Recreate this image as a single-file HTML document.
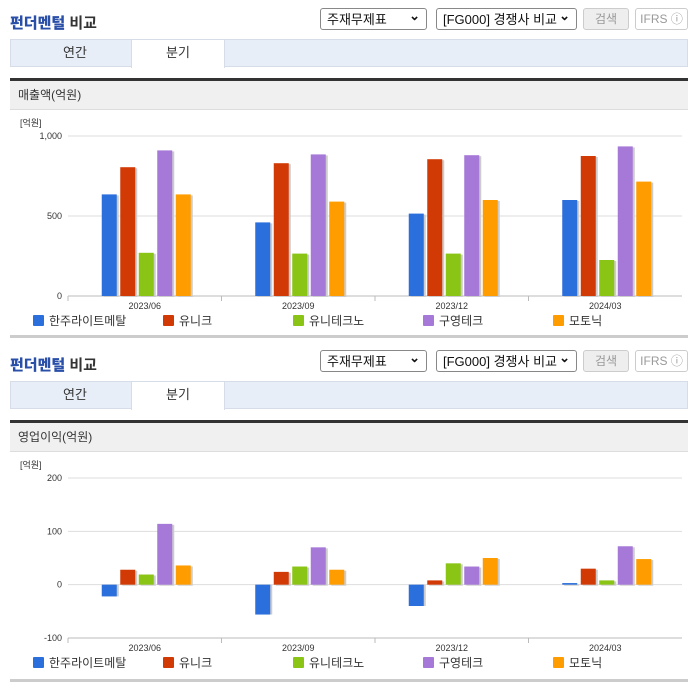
<!DOCTYPE html>
<html><head><meta charset="utf-8"><style>
body{margin:0;width:696px;height:684px;background:#fff;font-family:"Liberation Sans","Noto Sans CJK KR",sans-serif;position:relative;overflow:hidden}
.sec{position:absolute;left:0;width:696px;height:342px}
.title{position:absolute;left:10px;top:12px;font-size:15px;font-weight:bold;color:#333}
.title b{color:#2a4fa8}
.sel{position:absolute;top:8px;height:22px;border:1px solid #888;border-radius:3px;background:#fff;font-size:13px;line-height:22px;padding-left:6px;box-sizing:border-box;color:#111}
.sel:after{content:"⌄";position:absolute;right:6px;top:-4px;font-weight:bold}
.btn{position:absolute;top:8px;height:22px;border:1px solid #ccc;border-radius:3px;background:#eee;font-size:12px;line-height:20px;text-align:center;color:#999;box-sizing:border-box}
.tabs{position:absolute;left:10px;top:39px;width:678px;height:28px;background:#e8eef7;border:1px solid #d6dde8;box-sizing:border-box}
.tab{position:absolute;top:0;height:28px;width:92px;text-align:center;font-size:13px;line-height:26px;color:#333}
.thick{position:absolute;left:10px;top:78px;width:678px;height:3px;background:#333}
.ghead{position:absolute;left:10px;top:81px;width:678px;height:29px;background:#f0f0f0;font-size:12px;line-height:29px;padding-left:8px;box-sizing:border-box;color:#333;border-bottom:1px solid #ddd}
.bottom{position:absolute;left:10px;top:335px;width:678px;height:3px;background:#ccc}
svg{position:absolute;left:0;top:0}
</style></head><body>
<div class="sec" style="top:0">
<div class="title"><b>펀더멘털</b> 비교</div>
<div class="sel" style="left:320px;width:107px">주재무제표</div>
<div class="sel" style="left:436px;width:141px">[FG000] 경쟁사 비교</div>
<div class="btn" style="left:583px;width:46px">검색</div>
<div class="btn" style="left:635px;width:53px;background:#fff">IFRS ⓘ</div>
<div class="tabs">
<div class="tab" style="left:18px">연간</div>
<div class="tab" style="left:120px;background:#fff;border-left:1px solid #d6dde8;border-right:1px solid #d6dde8;height:28px">분기</div>
</div>
<div class="thick"></div>
<div class="ghead">매출액(억원)</div>
<svg id="c1" width="696" height="342"></svg>
<div class="bottom"></div>
</div>
<div class="sec" style="top:342px">
<div class="title"><b>펀더멘털</b> 비교</div>
<div class="sel" style="left:320px;width:107px">주재무제표</div>
<div class="sel" style="left:436px;width:141px">[FG000] 경쟁사 비교</div>
<div class="btn" style="left:583px;width:46px">검색</div>
<div class="btn" style="left:635px;width:53px;background:#fff">IFRS ⓘ</div>
<div class="tabs">
<div class="tab" style="left:18px">연간</div>
<div class="tab" style="left:120px;background:#fff;border-left:1px solid #d6dde8;border-right:1px solid #d6dde8;height:28px">분기</div>
</div>
<div class="thick"></div>
<div class="ghead">영업이익(억원)</div>
<svg id="c2" width="696" height="342"></svg>
<div class="bottom" style="top:337px"></div>
</div>
<script>
const categories=["2023/06","2023/09","2023/12","2024/03"];
const seriesNames=["한주라이트메탈","유니크","유니테크노","구영테크","모토닉"];
const colors=["#2a6fdb","#d23a05","#8ac414","#a678d8","#ff9c00"];
const revHanju=[635,460,515,600];
const revUnique=[805,830,855,875];
const revUnitechno=[270,265,265,225];
const revGuyoung=[910,885,880,935];
const revMotonic=[635,590,600,715];
const opHanju=[-22,-56,-40,3];
const opUnique=[28,24,8,30];
const opUnitechno=[19,34,40,8];
const opGuyoung=[114,70,34,72];
const opMotonic=[36,28,50,48];
const revTicks=[0,500,1000];
const opTicks=[-100,0,100,200];
const NS="http://www.w3.org/2000/svg";
function mk(svg,tag,attrs,txt){const e=document.createElementNS(NS,tag);for(const k in attrs)e.setAttribute(k,attrs[k]);if(txt!==undefined)e.textContent=txt;svg.appendChild(e);return e;}
function draw(id,series,ticks,min,max,yTop,yBot,axisY){
 const svg=document.getElementById(id);
 const L=68,R=682,cw=(R-L)/categories.length;
 const y=v=>yBot-(v-min)/(max-min)*(yBot-yTop);
 const xb=(c,s)=>L+cw*c+cw/2-43+s*18.5;
 let t=mk(svg,'text',{x:20,y:yTop-10,'font-size':9,fill:'#333'},'[억원]');
 
 ticks.forEach(v=>{
  let l=mk(svg,'line',{x1:L,x2:R,y1:y(v),y2:y(v),stroke:v===min?'#bbb':'#ddd','stroke-width':1});
  
  let tx=mk(svg,'text',{x:L-6,y:y(v)+3,'font-size':9,fill:'#333','text-anchor':'end'},v.toLocaleString('en-US'));
  
 });
 categories.forEach((c,i)=>{
  let l=mk(svg,'line',{x1:L+cw*i,x2:L+cw*i,y1:yBot,y2:yBot+5,stroke:'#bbb'});
  
  let tx=mk(svg,'text',{x:L+cw*i+cw/2,y:yBot+13,'font-size':9,fill:'#333','text-anchor':'middle'},c);
  
  series.forEach((s,j)=>{
   const v=s[i],y0=y(axisY),y1=y(v),top=Math.min(y0,y1),h=Math.abs(y1-y0);
   let sh=mk(svg,'rect',{x:xb(i,j)+2,y:top+(v>=0?1:0),width:15,height:h,fill:'#ccc'});
   
   let b=mk(svg,'rect',{x:xb(i,j),y:top,width:15,height:h,fill:colors[j]});
   
  });
 });
 seriesNames.forEach((n,j)=>{
  let r=mk(svg,'rect',{x:33+130*j,y:yBot+19,width:11,height:11,fill:colors[j],rx:1});
  
  let tx=mk(svg,'text',{x:49+130*j,y:yBot+29,'font-size':12,fill:'#333'},n);
  
 });
}
draw('c1',[revHanju,revUnique,revUnitechno,revGuyoung,revMotonic],revTicks,0,1000,136,296,0);
draw('c2',[opHanju,opUnique,opUnitechno,opGuyoung,opMotonic],opTicks,-100,200,136,296,0);
</script>
</body></html>
